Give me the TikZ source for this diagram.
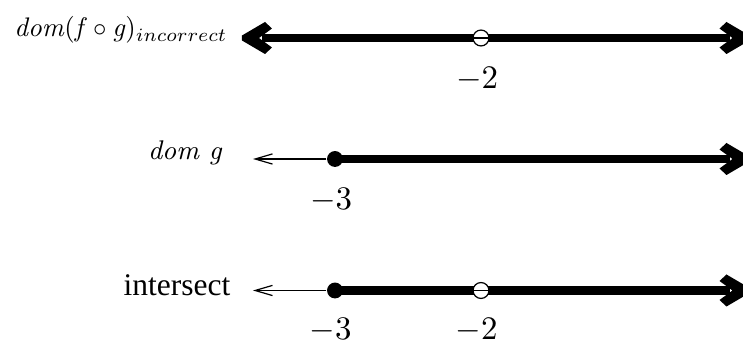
\documentclass[tikz,border=0pt]{standalone}
\usepackage{fontspec}
\newfontfamily\timesfont{Liberation Serif}
\usetikzlibrary{arrows.meta}
\newcommand{\cursivetext}[1]{\textit{#1}}
\tikzset{
  thickline/.style={line width=2.8pt},
  thinline/.style={line width=0.4pt},
  thinarrow/.style={thinline,-{Straight Barb[length=5.8pt,width=3.4pt]}},
  fulldot/.style={circle,fill=black,inner sep=0pt,minimum size=5.3pt},
  opendot/.style={circle,draw=black,fill=white,inner sep=0pt,minimum size=5.3pt,line width=0.4pt},
  numlabel/.style={inner sep=0pt,font=\fontsize{10.5}{12}\selectfont},
  headR/.pic={\fill (0,-2.5) -- (-23,-16) -- (-30,-9.5) -- (-17,0) -- (-30,9.5) -- (-23,16) -- (0,2.5) -- cycle;}
}
\begin{document}
\begin{tikzpicture}[x=0.3333pt,y=-0.3333pt]
\useasboundingbox (0,0) rectangle (743,342);
\clip (0,0) rectangle (743,342);
% line 1
\coordinate (l1) at (242,38);
\coordinate (r1) at (749.5,38);
\draw[thickline] ([xshift=6.5pt]l1) -- ([xshift=-6.5pt]r1);
\pic at (l1) [xscale=-1] {headR};
\pic at (r1) {headR};
\node[opendot] (o1) at (481,38) {};
\draw[thinline] (o1.west) -- (o1.east);
\node[numlabel] (m2a) at (477,79) {$-2$};
\node[anchor=base east,inner sep=0pt] (t1) at (228,37)
  {\resizebox{71pt}{!}{\cursivetext{dom}$(\mbox{\cursivetext{f}}\circ\mbox{\cursivetext{g}})_{incorrect}$}};
% line 2
\node[fulldot] (d2) at (335,159) {};
\coordinate (a2) at (253,159);
\coordinate (r2) at (749.5,159);
\draw[thinarrow] (d2) -- (a2);
\draw[thickline] (d2.center) -- ([xshift=-6.5pt]r2);
\pic at (r2) {headR};
\node[numlabel] (m3a) at (331,200) {$-3$};
\node[anchor=base east,inner sep=0pt,font=\fontsize{9}{11}\selectfont] (t2) at (223,160) {\cursivetext{dom g}};
% line 3
\node[fulldot] (d3) at (335,290.5) {};
\coordinate (a3) at (253,290.5);
\coordinate (r3) at (749.5,290.5);
\draw[thinarrow] (d3) -- (a3);
\draw[thickline] (d3.center) -- ([xshift=-6.5pt]r3);
\pic at (r3) {headR};
\node[opendot] (o3) at (481,290.5) {};
\draw[thinline] (o3.west) -- (o3.east);
\node[numlabel] (m3b) at (330.5,330) {$-3$};
\node[numlabel] (m2b) at (476.5,330) {$-2$};
\node[anchor=base east,inner sep=0pt,font=\timesfont\fontsize{10.5}{12}\selectfont] (t3) at (231,296) {intersect};
\end{tikzpicture}
\end{document}
